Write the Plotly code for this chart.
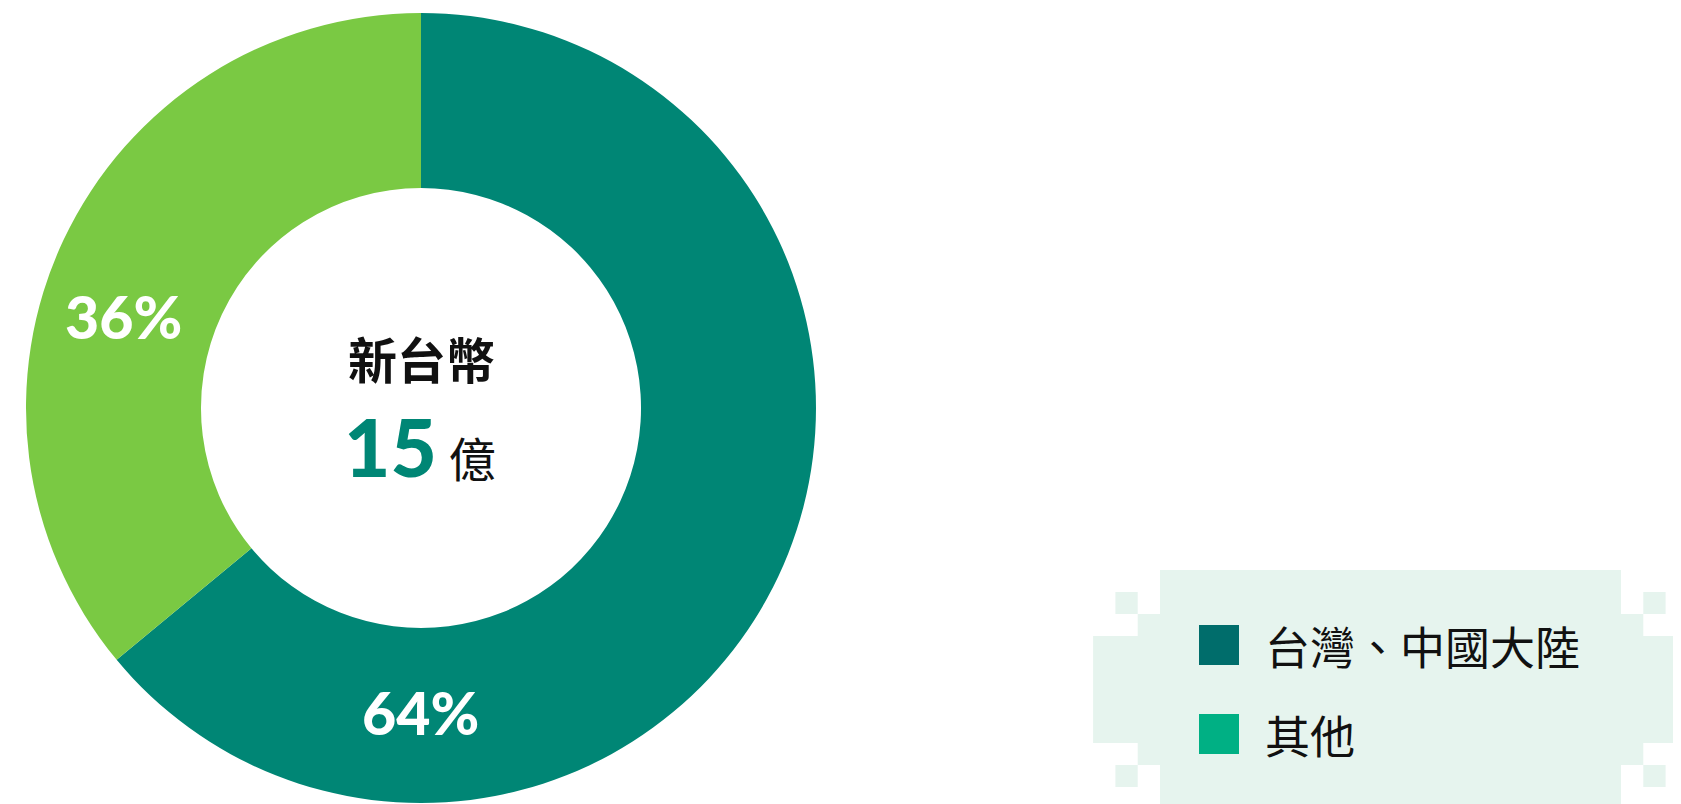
import plotly.graph_objects as go

# ---- data ----
categories = ["台灣、中國大陸", "其他"]
shares = [64, 36]
slice_colors = ["#008675", "#7AC943"]
legend_colors = ["#006D6B", "#00B084"]
center_title = "新台幣"
center_value = "15"
center_unit = "億"

OFF = 8  # page body margin
W, H = 1681, 804 - OFF


def px(x):
    return (x - OFF) / W


def py(y):
    return 1 - (y - OFF) / H


cx, cy, R = 421, 408, 395

fig = go.Figure()
fig.add_trace(go.Pie(
    labels=categories,
    values=shares,
    hole=0.557,
    sort=False,
    direction="clockwise",
    rotation=0,
    marker=dict(colors=slice_colors, line=dict(width=0)),
    textinfo="none",
    hoverinfo="label+percent",
    showlegend=False,
    domain=dict(x=[px(cx - R), px(cx + R)], y=[py(cy + R), py(cy - R)]),
))

annotations = []
# percent labels
label_pos = [(420, 712), (123, 316)]
for v, (lx, ly) in zip(shares, label_pos):
    annotations.append(dict(
        x=px(lx), y=py(ly), xref="paper", yref="paper",
        text=f"{v}%", showarrow=False,
        xanchor="center", yanchor="middle",
        font=dict(family="Lato", size=59, color="white", weight=900),
    ))

# center text
annotations.append(dict(
    x=px(421), y=py(357), xref="paper", yref="paper",
    text=f"<b>{center_title}</b>", showarrow=False,
    xanchor="center", yanchor="middle",
    font=dict(family="Noto Sans CJK TC", size=49, color="#111111"),
))
annotations.append(dict(
    x=px(420), y=py(446), xref="paper", yref="paper",
    text=(f"<span style='font-size:80px;color:#008675;font-weight:900'>{center_value}</span>"
          f" <span style='font-size:47px;color:#111111'>{center_unit}</span>"),
    showarrow=False, xanchor="center", yanchor="middle",
    font=dict(family="Lato, Noto Sans CJK TC", size=47, color="#111111"),
))

# legend background (stepped box)
bg = "#E6F4EE"
step = 22.3
L, Rr = 1160, 1621
shapes = []


def rect(x0, y0, x1, y1, color):
    shapes.append(dict(type="rect", xref="paper", yref="paper",
                       x0=px(x0), x1=px(x1), y0=py(y1), y1=py(y0),
                       fillcolor=color, line=dict(width=0), layer="below"))


rect(L, 570, Rr, 815, bg)
rect(L - step, 614, Rr + step, 765, bg)
rect(L - 3 * step, 636, 1760, 743, bg)
for yy in (592, 765):
    rect(L - 2 * step, yy, L - step, yy + 22, bg)
    rect(Rr + step, yy, Rr + 2 * step, yy + 22, bg)

# legend entries
legend_y = [645, 734]
for name, col, ly in zip(categories, legend_colors, legend_y):
    shapes.append(dict(type="rect", xref="paper", yref="paper",
                       x0=px(1199), x1=px(1239), y0=py(ly + 20), y1=py(ly - 20),
                       fillcolor=col, line=dict(width=0)))
    annotations.append(dict(
        x=px(1263), y=py(ly), xref="paper", yref="paper",
        text=name, showarrow=False, xanchor="left", yanchor="middle",
        font=dict(family="Noto Sans CJK TC", size=45, color="#111111"),
    ))

fig.update_layout(
    width=W, height=H,
    margin=dict(l=0, r=0, t=0, b=0),
    paper_bgcolor="white", plot_bgcolor="white",
    annotations=annotations, shapes=shapes,
    showlegend=False,
)

fig.write_html("out.html", config={"displayModeBar": False},
               post_script="document.documentElement.style.overflow='hidden';"
                           "document.body.style.overflow='hidden';")
